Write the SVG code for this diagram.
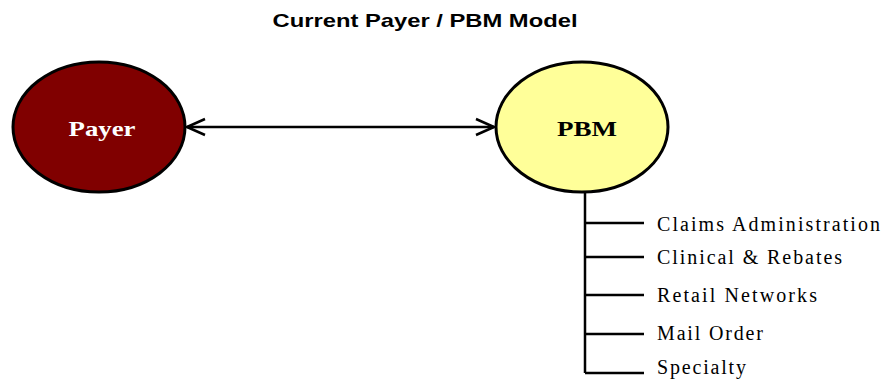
<svg xmlns="http://www.w3.org/2000/svg" width="882" height="379" viewBox="0 0 882 379">
<style>
.node{stroke:#000;stroke-width:3}
.lbl{font-family:"Liberation Serif","Times New Roman",serif;font-weight:bold;font-size:21px;text-anchor:middle}
.item{font-family:"Liberation Serif","Times New Roman",serif;font-size:20px;fill:#000}
.conn{stroke:#000;stroke-width:2.5;fill:none}
</style>
<defs>
<marker id="arr" viewBox="0 0 20 20" refX="19" refY="10" markerWidth="20" markerHeight="20" markerUnits="userSpaceOnUse" orient="auto-start-reverse">
<path d="M1,2 L19,10 L1,18" fill="none" stroke="#000" stroke-width="2.5"/>
</marker>
</defs>
<rect width="882" height="379" fill="#fff"/>
<text x="425" y="27" font-family="Liberation Sans,Arial,sans-serif" font-weight="bold" font-size="19" text-anchor="middle" textLength="305" lengthAdjust="spacingAndGlyphs">Current Payer / PBM Model</text>
<g id="connectors">
<line class="conn" x1="187" y1="127" x2="494" y2="127" stroke-width="2" marker-start="url(#arr)" marker-end="url(#arr)"/>
<path class="conn" d="M585,193 V373 M585,223 H644 M585,257 H644 M585,295 H644 M585,334 H644 M585,373 H644"/>
</g>
<g id="payer">
<ellipse class="node" cx="99" cy="127" rx="86" ry="65" fill="#800000"/>
<text class="lbl" x="102" y="136" fill="#fff" textLength="67" lengthAdjust="spacingAndGlyphs">Payer</text>
</g>
<g id="pbm">
<ellipse class="node" cx="582" cy="127" rx="86" ry="65" fill="#FFFF99"/>
<text class="lbl" x="587" y="136" fill="#000" textLength="60" lengthAdjust="spacingAndGlyphs">PBM</text>
</g>
<g id="items">
<text class="item" x="657" y="231" textLength="223">Claims Administration</text>
<text class="item" x="657" y="264" textLength="185">Clinical &amp; Rebates</text>
<text class="item" x="657" y="302" textLength="160">Retail Networks</text>
<text class="item" x="657" y="340" textLength="106">Mail Order</text>
<text class="item" x="657" y="374" textLength="89">Specialty</text>
</g>
</svg>
